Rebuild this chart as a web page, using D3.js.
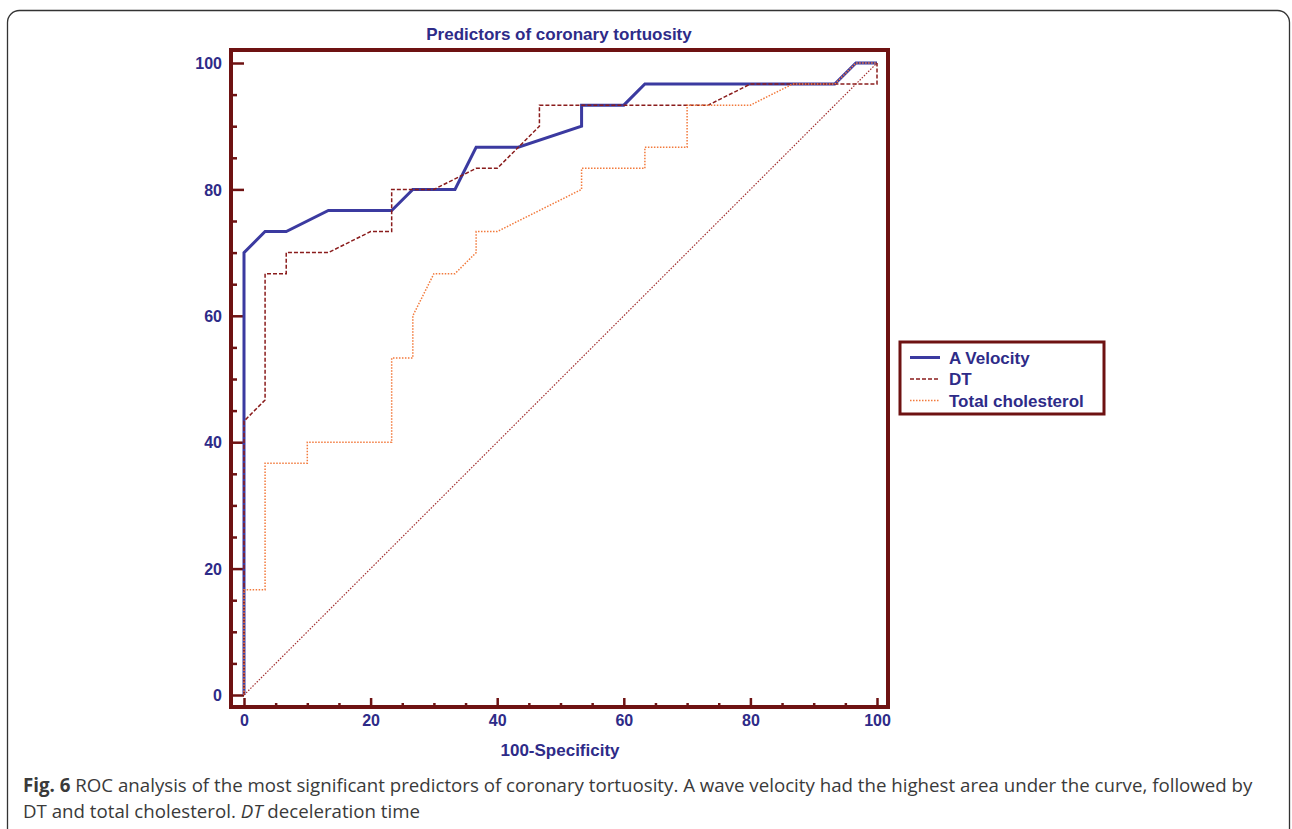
<!DOCTYPE html>
<html>
<head>
<meta charset="utf-8">
<script src="https://cdn.jsdelivr.net/npm/d3@7"></script>
<style>
  body { margin: 0; background: #fff; }
  .tick text { font-family: "Liberation Sans", Arial, sans-serif; font-weight: bold; font-size: 16px; fill: #2e2b88; }
  .lbl { font-family: "Liberation Sans", Arial, sans-serif; font-weight: bold; fill: #2e2b88; }
  .caption { font-family: "Open Sans", sans-serif; font-size: 18.7px; fill: #3a3a3a; }
</style>
</head>
<body>
<div id="chart"></div>
<script>
// ROC curves (x = 100-Specificity, y = Sensitivity)
var aVelX = [0, 0, 3.33, 6.67, 13.33, 23.33, 26.67, 33.33, 36.67, 43.33, 53.33, 53.33, 60, 63.33, 93.33, 96.67, 100];
var aVelY = [0, 70, 73.33, 73.33, 76.67, 76.67, 80, 80, 86.67, 86.67, 90, 93.33, 93.33, 96.67, 96.67, 100, 100];

var dtX = [0, 0, 3.33, 3.33, 6.67, 6.67, 13.33, 20, 23.33, 23.33, 30, 36.67, 40, 46.67, 46.67, 73.33, 80, 100, 100];
var dtY = [0, 43.33, 46.67, 66.67, 66.67, 70, 70, 73.33, 73.33, 80, 80, 83.33, 83.33, 90, 93.33, 93.33, 96.67, 96.67, 100];

var cholX = [0, 0, 3.33, 3.33, 10, 10, 23.33, 23.33, 26.67, 26.67, 30, 33.33, 36.67, 36.67, 40, 53.33, 53.33, 63.33, 63.33, 70, 70, 80, 86.67, 93.33, 96.67, 100];
var cholY = [0, 16.67, 16.67, 36.67, 36.67, 40, 40, 53.33, 53.33, 60, 66.67, 66.67, 70, 73.33, 73.33, 80, 83.33, 83.33, 86.67, 86.67, 93.33, 93.33, 96.67, 96.67, 100, 100];

var refX = [0, 100];
var refY = [0, 100];

var majorTicks = [0, 20, 40, 60, 80, 100];
var minorTicks = d3.range(0, 101, 5).filter(function(v) { return v % 20 != 0; });

var seriesNames = ["A Velocity", "DT", "Total cholesterol"];

var width = 1292, height = 829;
var svg = d3.select("#chart").append("svg")
    .attr("width", width)
    .attr("height", height);

var frame = {left: 231, right: 888, top: 50, bottom: 707};

var x = d3.scaleLinear().domain([0, 100]).range([244, 877]);
var y = d3.scaleLinear().domain([0, 100]).range([695, 63]);

var maroon = "#6e1212";

// card outline
svg.append("rect")
    .attr("x", 7.5).attr("y", 10.5)
    .attr("width", 1282).attr("height", 840)
    .attr("rx", 12)
    .attr("fill", "none")
    .attr("stroke", "#333")
    .attr("stroke-width", 1.3);

// title
svg.append("text")
    .attr("class", "lbl")
    .attr("x", 559).attr("y", 40)
    .attr("text-anchor", "middle")
    .style("font-size", "17px")
    .text("Predictors of coronary tortuosity");

// axes
var yMajor = d3.axisLeft(y).tickValues(majorTicks).tickSize(-13).tickPadding(9);
var yMinor = d3.axisLeft(y).tickValues(minorTicks).tickSize(-6).tickFormat("");
var xMajor = d3.axisBottom(x).tickValues(majorTicks).tickSize(-9).tickPadding(8);
var xMinor = d3.axisBottom(x).tickValues(minorTicks).tickSize(-4).tickFormat("");

function styleAxis(g) {
  g.select(".domain").remove();
  g.selectAll(".tick line").attr("stroke", maroon).attr("stroke-width", 2.5);
}

svg.append("g").attr("transform", "translate(" + frame.left + ",0)").call(yMajor).call(styleAxis)
   .selectAll(".tick text").attr("dy", "0.36em");
svg.append("g").attr("transform", "translate(" + frame.left + ",0)").call(yMinor).call(styleAxis);
svg.append("g").attr("transform", "translate(0," + frame.bottom + ")").call(xMajor).call(styleAxis);
svg.append("g").attr("transform", "translate(0," + frame.bottom + ")").call(xMinor).call(styleAxis);

svg.selectAll(".tick text").attr("fill", "#2e2b88");

// x axis label
svg.append("text")
    .attr("class", "lbl")
    .attr("x", 560).attr("y", 756)
    .attr("text-anchor", "middle")
    .style("font-size", "17px")
    .text("100-Specificity");

// curves
function pts(xs, ys) { return xs.map(function(v, i) { return [v, ys[i]]; }); }
var line = d3.line().x(function(d) { return x(d[0]); }).y(function(d) { return y(d[1]); });

var styles = [
  {color: "#3b3aa0", width: 3, dash: null},
  {color: "#8a1c1c", width: 1.5, dash: "4,2"},
  {color: "#f27a3c", width: 1.5, dash: "1.5,1.5"}
];

svg.append("path").datum(pts(aVelX, aVelY))
    .attr("d", line).attr("fill", "none")
    .attr("stroke", styles[0].color).attr("stroke-width", styles[0].width)
    .attr("stroke-linejoin", "miter");

svg.append("path").datum(pts(dtX, dtY))
    .attr("d", line).attr("fill", "none")
    .attr("stroke", styles[1].color).attr("stroke-width", styles[1].width)
    .attr("stroke-dasharray", styles[1].dash);

svg.append("path").datum(pts(cholX, cholY))
    .attr("d", line).attr("fill", "none")
    .attr("stroke", styles[2].color).attr("stroke-width", styles[2].width)
    .attr("stroke-dasharray", styles[2].dash);

svg.append("path").datum(pts(refX, refY))
    .attr("d", line).attr("fill", "none")
    .attr("stroke", "#a33030").attr("stroke-width", 1.2)
    .attr("stroke-dasharray", "1.5,1.5");

// frame
svg.append("rect")
    .attr("x", frame.left).attr("y", frame.top)
    .attr("width", frame.right - frame.left)
    .attr("height", frame.bottom - frame.top)
    .attr("fill", "none")
    .attr("stroke", maroon)
    .attr("stroke-width", 4);

// legend
var legend = svg.append("g");
legend.append("rect")
    .attr("x", 900).attr("y", 342)
    .attr("width", 204).attr("height", 72)
    .attr("fill", "#fff")
    .attr("stroke", maroon)
    .attr("stroke-width", 3);

var items = legend.selectAll("g.item")
    .data(seriesNames)
    .enter().append("g").attr("class", "item");

items.append("line")
    .attr("x1", 910).attr("x2", 940)
    .attr("y1", function(d, i) { return 357.5 + i * 21.5; })
    .attr("y2", function(d, i) { return 357.5 + i * 21.5; })
    .attr("stroke", function(d, i) { return styles[i].color; })
    .attr("stroke-width", function(d, i) { return i == 0 ? 3 : 1.5; })
    .attr("stroke-dasharray", function(d, i) { return styles[i].dash; });

items.append("text")
    .attr("class", "lbl")
    .attr("x", 949)
    .attr("y", function(d, i) { return 363.5 + i * 21.5; })
    .style("font-size", "17px")
    .text(function(d) { return d; });

// caption
var cap = svg.append("text").attr("class", "caption").attr("x", 23).attr("y", 792);
cap.append("tspan").style("font-weight", "bold").text("Fig. 6");
cap.append("tspan").text(" ROC analysis of the most significant predictors of coronary tortuosity. A wave velocity had the highest area under the curve, followed by");

var cap2 = svg.append("text").attr("class", "caption").attr("x", 23).attr("y", 818);
cap2.append("tspan").text("DT and total cholesterol. ");
cap2.append("tspan").style("font-style", "italic").text("DT");
cap2.append("tspan").text(" deceleration time");
</script>
</body>
</html>
